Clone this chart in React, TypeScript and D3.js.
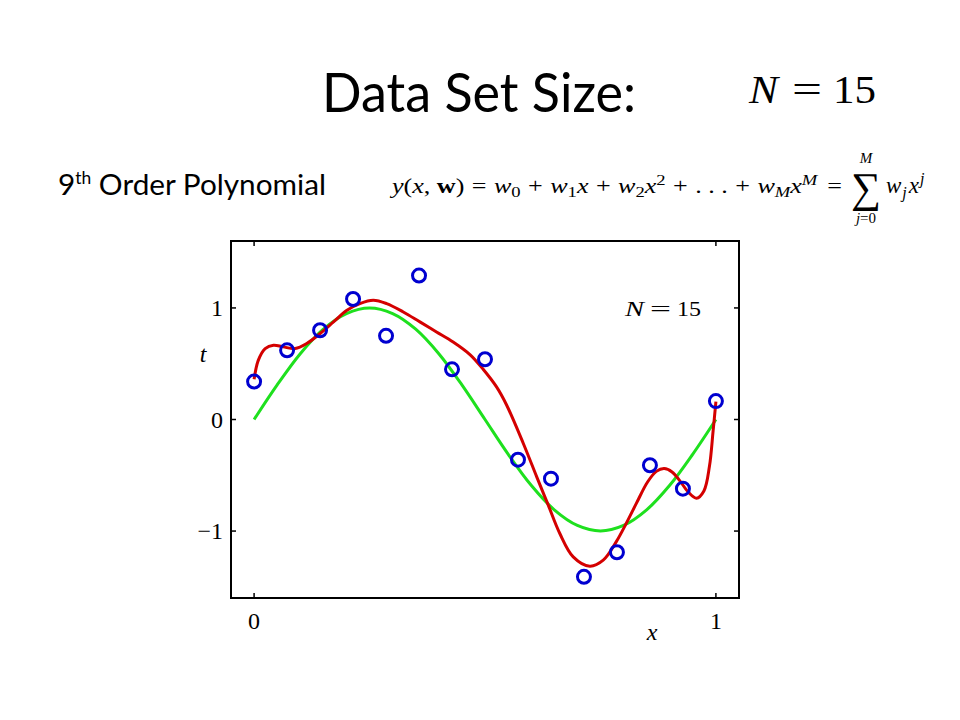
import React from "react";
import * as d3 from "d3";

// Observed data points (N = 15)
const pointX = [0, 1 / 14, 2 / 14, 3 / 14, 4 / 14, 5 / 14, 6 / 14, 7 / 14, 8 / 14, 9 / 14, 10 / 14, 11 / 14, 12 / 14, 13 / 14, 1];
const pointT = [0.34, 0.62, 0.8, 1.08, 0.75, 1.29, 0.45, 0.54, -0.36, -0.53, -1.41, -1.19, -0.41, -0.62, 0.165];

// Green curve (true function)
const greenX = [0, 0.05, 0.1, 0.15, 0.2, 0.25, 0.3, 0.35, 0.4, 0.45, 0.5, 0.55, 0.6, 0.65, 0.7, 0.75, 0.8, 0.85, 0.9, 0.95, 1];
const greenY = [0, 0.31, 0.59, 0.81, 0.95, 1.0, 0.95, 0.81, 0.59, 0.31, 0, -0.31, -0.59, -0.81, -0.95, -1.0, -0.95, -0.81, -0.59, -0.31, 0];

// Red curve (9th order polynomial fit)
const redX = [0, 0.009, 0.024, 0.042, 0.063, 0.089, 0.114, 0.143, 0.172, 0.201, 0.229, 0.258, 0.287, 0.323, 0.359, 0.395, 0.431, 0.468, 0.496, 0.525, 0.547, 0.583, 0.612, 0.637, 0.662, 0.691, 0.727, 0.756, 0.785, 0.806, 0.828, 0.852, 0.871, 0.888, 0.905, 0.922, 0.94, 0.958, 0.974, 0.986, 0.994, 1.0];
const redY = [0.36, 0.53, 0.636, 0.666, 0.651, 0.636, 0.681, 0.771, 0.875, 0.979, 1.039, 1.069, 1.039, 0.964, 0.875, 0.785, 0.695, 0.58, 0.45, 0.292, 0.128, -0.215, -0.514, -0.768, -1.022, -1.231, -1.315, -1.261, -1.09, -0.93, -0.75, -0.56, -0.465, -0.44, -0.47, -0.55, -0.65, -0.705, -0.64, -0.42, -0.1, 0.16];

const xTicks = [0, 1];
const yTicks = [-1, 0, 1];
const xTickLabels = ["0", "1"];
const yTickLabels = ["\u22121", "0", "1"];

const serif = "'Liberation Serif', 'DejaVu Serif', serif";
const sans = "Lato, 'Open Sans', sans-serif";

export default function App() {
  const left = 231, right = 739, top = 241, bottom = 598;
  const x = d3.scaleLinear().domain([-0.05, 1.05]).range([left, right]);
  const y = d3.scaleLinear().domain([-1.6, 1.6]).range([bottom, top]);

  const line = d3
    .line<[number, number]>()
    .x((d) => x(d[0]))
    .y((d) => y(d[1]))
    .curve(d3.curveCatmullRom.alpha(0.5));

  const greenPath = line(greenX.map((v, i) => [v, greenY[i]]) as [number, number][]) || "";
  const redPath = line(redX.map((v, i) => [v, redY[i]]) as [number, number][]) || "";
  const tick = 5;

  return (
    <svg width={960} height={720} style={{ position: "absolute", left: 0, top: 0, background: "#fff" }}>
      <rect x={0} y={0} width={960} height={720} fill="#fff" />
      {/* Title */}
      <text x={322} y={112} fontFamily={sans} fontSize={54} fill="#000" textLength={314} lengthAdjust="spacingAndGlyphs">
        Data Set Size:
      </text>
      <g fontFamily={serif} fontSize={40} fill="#000">
        <text x={749} y={103} fontStyle="italic" textLength={29} lengthAdjust="spacingAndGlyphs">N</text>
        <text x={792} y={103} textLength={30} lengthAdjust="spacingAndGlyphs">=</text>
        <text x={833} y={103} textLength={43} lengthAdjust="spacingAndGlyphs">15</text>
      </g>

      {/* Subtitle */}
      <text x={58} y={195} fontFamily={sans} fontSize={29} fill="#000" textLength={268} lengthAdjust="spacingAndGlyphs">
        9<tspan fontSize={17} dy={-11}>th</tspan>
        <tspan dy={11}> Order Polynomial</tspan>
      </text>

      {/* Formula */}
      <text x={392} y={193} fontFamily={serif} fontSize={21} fill="#000" textLength={450} lengthAdjust="spacingAndGlyphs">
        <tspan fontStyle="italic">y</tspan>(<tspan fontStyle="italic">x</tspan>, <tspan fontWeight="bold">w</tspan>)
        <tspan dx={6}>=</tspan>
        <tspan dx={6} fontStyle="italic">w</tspan>
        <tspan fontSize={15} dy={4}>0</tspan>
        <tspan dy={-4} dx={6}>+</tspan>
        <tspan dx={6} fontStyle="italic">w</tspan>
        <tspan fontSize={15} dy={4}>1</tspan>
        <tspan dy={-4} fontStyle="italic">x</tspan>
        <tspan dx={6}>+</tspan>
        <tspan dx={6} fontStyle="italic">w</tspan>
        <tspan fontSize={15} dy={4}>2</tspan>
        <tspan dy={-4} fontStyle="italic">x</tspan>
        <tspan fontSize={15} dy={-8}>2</tspan>
        <tspan dy={8} dx={6}>+</tspan>
        <tspan dx={6}>. . .</tspan>
        <tspan dx={6}>+</tspan>
        <tspan dx={6} fontStyle="italic">w</tspan>
        <tspan fontSize={15} dy={4} fontStyle="italic">M</tspan>
        <tspan dy={-4} fontStyle="italic">x</tspan>
        <tspan fontSize={15} dy={-8} fontStyle="italic">M</tspan>
        <tspan dy={8} dx={8}>=</tspan>
      </text>
      <text x={866} y={202} fontFamily={serif} fontSize={42} textAnchor="middle" fill="#000">
        ∑
      </text>
      <text x={866} y={163} fontFamily={serif} fontSize={15} fontStyle="italic" textAnchor="middle" fill="#000">
        M
      </text>
      <text x={866} y={223} fontFamily={serif} fontSize={15} textAnchor="middle" fill="#000">
        <tspan fontStyle="italic">j</tspan>=0
      </text>
      <text x={886} y={193} fontFamily={serif} fontSize={23} fill="#000">
        <tspan fontStyle="italic">w</tspan>
        <tspan fontSize={16} dy={5} dx={1} fontStyle="italic">j</tspan>
        <tspan dy={-5} dx={2} fontStyle="italic">x</tspan>
        <tspan fontSize={16} dy={-9} dx={1} fontStyle="italic">j</tspan>
      </text>

      {/* Plot frame */}
      <rect x={left} y={top} width={right - left} height={bottom - top} fill="none" stroke="#000" strokeWidth={2} />
      {xTicks.map((v) => (
        <g key={"xt" + v}>
          <line x1={x(v)} x2={x(v)} y1={bottom} y2={bottom - tick} stroke="#000" strokeWidth={1.5} />
          <line x1={x(v)} x2={x(v)} y1={top} y2={top + tick} stroke="#000" strokeWidth={1.5} />
        </g>
      ))}
      {yTicks.map((v) => (
        <g key={"yt" + v}>
          <line x1={left} x2={left + tick} y1={y(v)} y2={y(v)} stroke="#000" strokeWidth={1.5} />
          <line x1={right} x2={right - tick} y1={y(v)} y2={y(v)} stroke="#000" strokeWidth={1.5} />
        </g>
      ))}
      {xTicks.map((v, i) => (
        <text key={"xl" + v} x={x(v)} y={629} fontFamily={serif} fontSize={24} textAnchor="middle" fill="#000">
          {xTickLabels[i]}
        </text>
      ))}
      {yTicks.map((v, i) => (
        <text key={"yl" + v} x={223} y={y(v) + 8} fontFamily={serif} fontSize={24} textAnchor="end" fill="#000">
          {yTickLabels[i]}
        </text>
      ))}
      <text x={652} y={640} fontFamily={serif} fontSize={24} fontStyle="italic" textAnchor="middle" fill="#000">
        x
      </text>
      <text x={203} y={362} fontFamily={serif} fontSize={24} fontStyle="italic" textAnchor="middle" fill="#000">
        t
      </text>
      <g fontFamily={serif} fontSize={22} fill="#000">
        <text x={625} y={316} fontStyle="italic" textLength={19} lengthAdjust="spacingAndGlyphs">N</text>
        <text x={650} y={316} textLength={21} lengthAdjust="spacingAndGlyphs">=</text>
        <text x={677} y={316} textLength={24} lengthAdjust="spacingAndGlyphs">15</text>
      </g>

      {/* Curves */}
      <path d={greenPath} fill="none" stroke="#1ee01e" strokeWidth={3} />
      <path d={redPath} fill="none" stroke="#d40000" strokeWidth={3} />
      {pointX.map((v, i) => (
        <circle key={"p" + i} cx={x(v)} cy={y(pointT[i])} r={6.5} fill="none" stroke="#0000d0" strokeWidth={3} />
      ))}
    </svg>
  );
}
